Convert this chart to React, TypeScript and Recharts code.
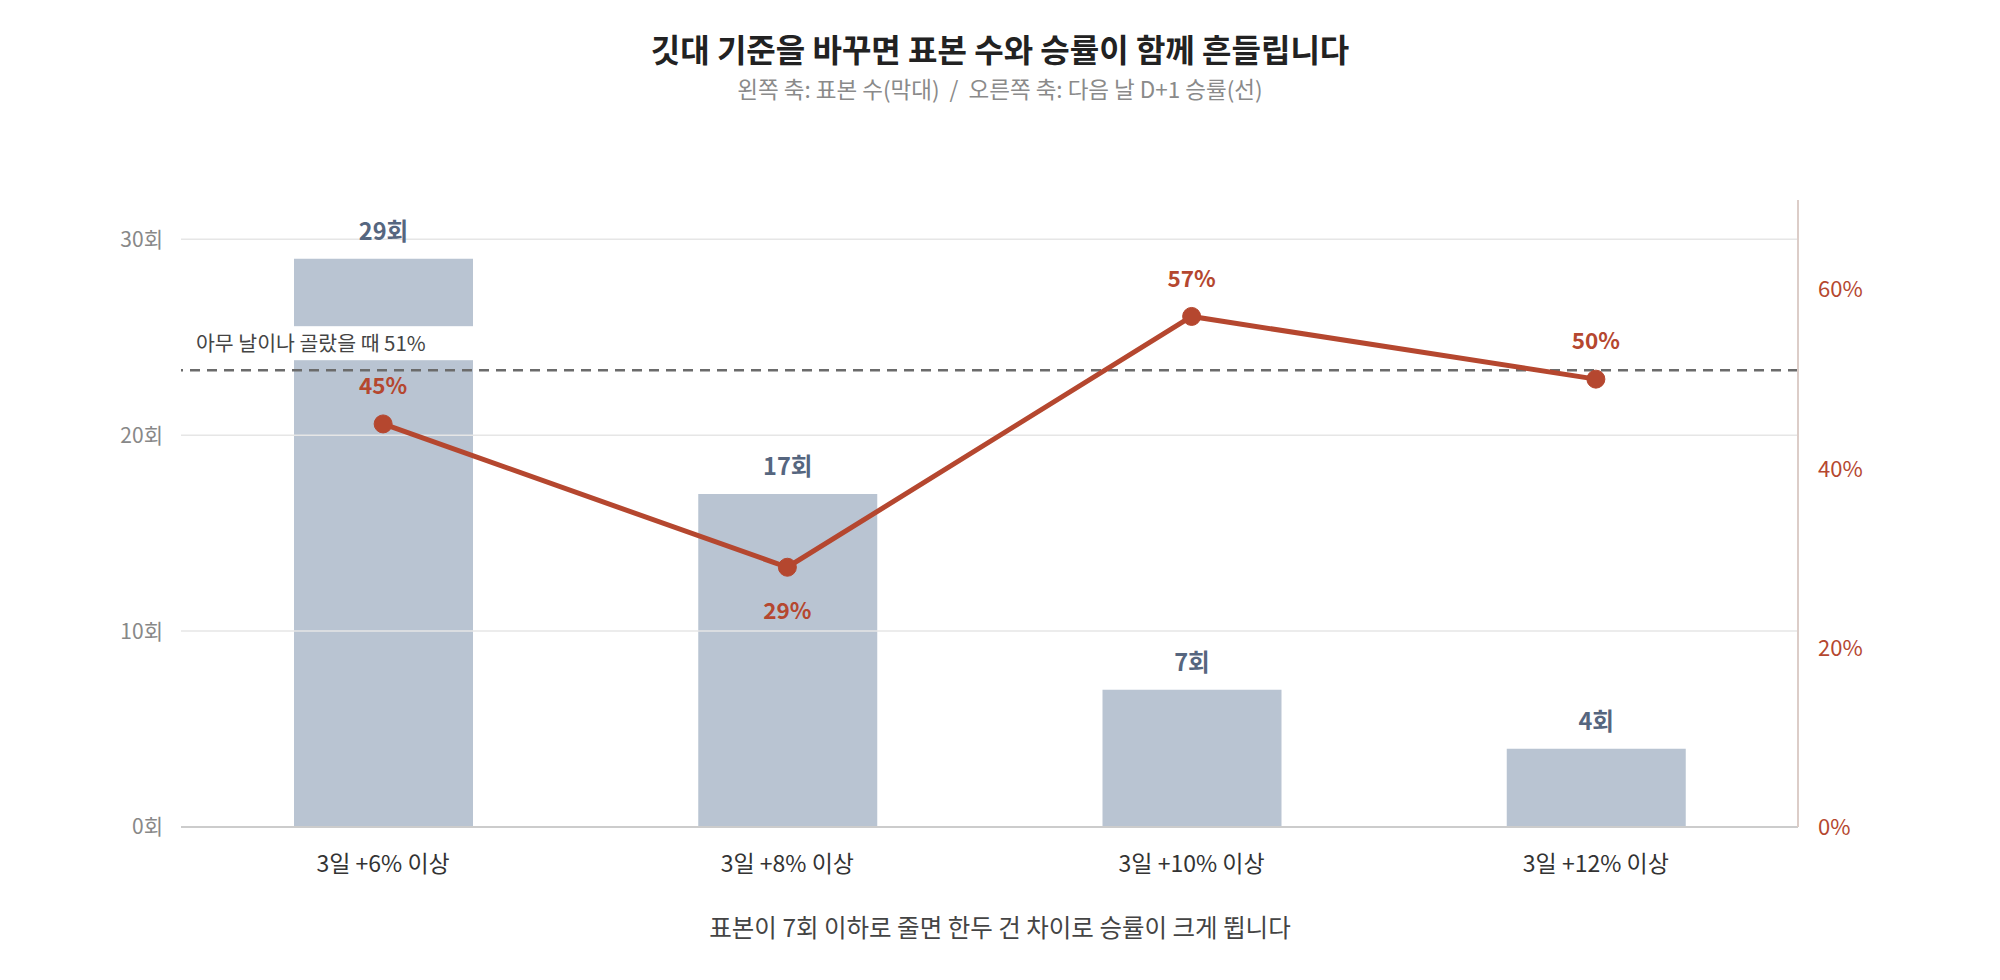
import { ComposedChart, Bar, Line, XAxis, YAxis, ReferenceLine, LabelList } from "recharts";

const categories = ["3일 +6% 이상", "3일 +8% 이상", "3일 +10% 이상", "3일 +12% 이상"];
const sampleCounts = [29, 17, 7, 4];
const winRates = [45, 29, 57, 50];
const countTicks = [0, 10, 20, 30];
const rateTicks = [0, 20, 40, 60];
const baselineRate = 51;

const FONT = "'Noto Sans CJK KR', 'Noto Sans', sans-serif";
const RED = "#b5472f";
const BAR = "#b9c4d2";

const data = categories.map((name, i) => ({
  name,
  count: sampleCounts[i],
  rate: winRates[i],
}));

function BaselineLabel(props: any) {
  const { viewBox } = props;
  if (!viewBox) return null;
  const x = viewBox.x;
  const y = viewBox.y;
  return (
    <g>
      <rect x={x + 8} y={y - 44} width={296} height={34} fill="#ffffff" />
      <text x={x + 15} y={y - 25} fontSize={20.5} fill="#444" fontFamily={FONT} dominantBaseline="middle">
        아무 날이나 골랐을 때 51%
      </text>
    </g>
  );
}

function RateLabel(props: any) {
  const { x, y, value, index } = props;
  const below = index === 1;
  return (
    <text
      x={x}
      y={below ? y + 46 : y - 36}
      textAnchor="middle"
      dominantBaseline="middle"
      fontSize={22.5}
      fontWeight={700}
      fill={RED}
      fontFamily={FONT}
    >
      {value}%
    </text>
  );
}

export default function App() {
  return (
    <div style={{ position: "absolute", left: 0, top: 0, width: 2000, height: 980, background: "#fff", fontFamily: FONT }}>
      <div style={{ position: "absolute", left: 0, top: 28, width: 2000, textAlign: "center", fontSize: 32, fontWeight: 700, color: "#222", lineHeight: "40px" }}>
        깃대 기준을 바꾸면 표본 수와 승률이 함께 흔들립니다
      </div>
      <div style={{ position: "absolute", left: 0, top: 74, width: 2000, textAlign: "center", fontSize: 22.5, color: "#8a8a8a", lineHeight: "28px", whiteSpace: "pre" }}>
        {"왼쪽 축: 표본 수(막대)  /  오른쪽 축: 다음 날 D+1 승률(선)"}
      </div>
      <ComposedChart
        width={2000}
        height={980}
        data={data}
        margin={{ top: 200, right: 0, bottom: 113, left: 0 }}
      >
        <XAxis
          dataKey="name"
          height={40}
          tickLine={false}
          tickSize={0}
          tickMargin={29}
          axisLine={{ stroke: "#cccccc", strokeWidth: 2 }}
          tick={{ fontSize: 23, fill: "#333", fontFamily: FONT }}
        />
        <YAxis
          yAxisId="left"
          width={181}
          domain={[0, 32]}
          ticks={countTicks}
          axisLine={false}
          tickLine={false}
          tickSize={0}
          tickMargin={18}
          tickFormatter={(v) => `${v}회`}
          tick={{ fontSize: 21, fill: "#888", fontFamily: FONT }}
        />
        <YAxis
          yAxisId="right"
          orientation="right"
          width={202}
          domain={[0, 70]}
          ticks={rateTicks}
          axisLine={{ stroke: "#dccdc8", strokeWidth: 2 }}
          tickLine={false}
          tickSize={0}
          tickMargin={20}
          tickFormatter={(v) => `${v}%`}
          tick={{ fontSize: 22, fill: RED, fontFamily: FONT }}
        />
        {countTicks.slice(1).map((t) => (
          <ReferenceLine key={t} yAxisId="left" y={t} stroke="#e6e6e6" strokeWidth={1.5} />
        ))}
        <Bar yAxisId="left" dataKey="count" fill={BAR} barSize={179} isAnimationActive={false}>
          <LabelList
            dataKey="count"
            position="top"
            offset={19}
            formatter={(v: any) => `${v}회`}
            style={{ fontSize: 23.5, fontWeight: 600, fill: "#56667f", fontFamily: FONT }}
          />
        </Bar>
        <ReferenceLine
          yAxisId="right"
          y={baselineRate}
          stroke="#6b6b6b"
          strokeWidth={2.5}
          strokeDasharray="10 7"
          label={<BaselineLabel />}
        />
        <Line
          yAxisId="right"
          dataKey="rate"
          stroke={RED}
          strokeWidth={5}
          dot={{ r: 9, fill: RED, stroke: RED, strokeWidth: 1 }}
          activeDot={false}
          isAnimationActive={false}
        >
          <LabelList dataKey="rate" content={<RateLabel />} />
        </Line>
      </ComposedChart>
      <div style={{ position: "absolute", left: 0, top: 911, width: 2000, textAlign: "center", fontSize: 24.5, color: "#444", lineHeight: "32px" }}>
        표본이 7회 이하로 줄면 한두 건 차이로 승률이 크게 뜁니다
      </div>
    </div>
  );
}
